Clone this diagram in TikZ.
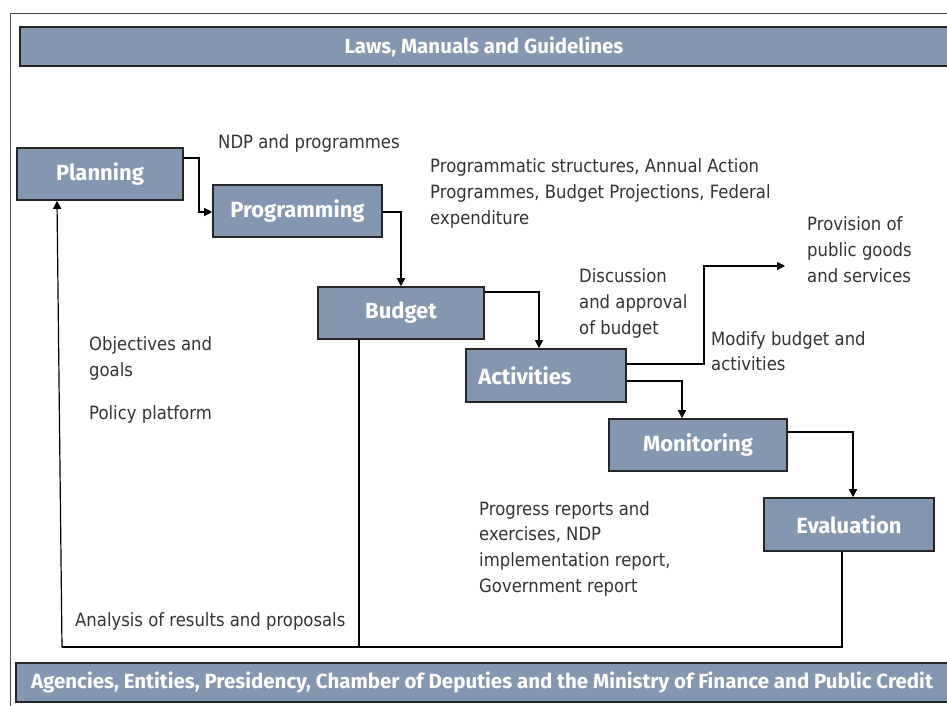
\documentclass[tikz,border=0pt]{standalone}
\usepackage{fontspec}
\usetikzlibrary{arrows.meta,calc}
\newfontfamily\labfont[FakeStretch=0.9]{DejaVu Sans}
\newfontfamily\boxfont{Fira Sans}
\newfontfamily\barfont{Fira Sans}
\definecolor{boxblue}{HTML}{8497B0}
\definecolor{labgray}{HTML}{333333}
\begin{document}
\begin{tikzpicture}[x=1pt,y=-1pt,
  stage/.style={draw=black!85, line width=1.6pt, fill=boxblue, text=white,
    font=\boxfont\bfseries\fontsize{22}{26}\selectfont,
    minimum width=#1, minimum height=52pt, inner sep=0pt},
  bar/.style={draw=black!85, line width=1.6pt, fill=boxblue, text=white,
    font=\barfont\bfseries\fontsize{20.5}{24}\selectfont, inner sep=0pt},
  lab/.style={anchor=north west, inner sep=0pt, align=left, text=labgray,
    font=\labfont\fontsize{18.3}{26}\selectfont},
  conn/.style={draw=black, line width=1.2pt},
  arr/.style={conn, -{Triangle[length=8pt,width=8pt]}}]
\useasboundingbox (0,0) rectangle (947,705);
\fill[white] (0,0) rectangle (947,705);
\draw[black!70, line width=1pt] (10,13) rectangle (960,715);
% bars
\node[bar, minimum width=928pt, minimum height=39pt] (laws) at (484,46.5) {Laws, Manuals and Guidelines};
\node[bar, minimum width=932pt, minimum height=39pt] (agen) at (482,682.5) {Agencies, Entities, Presidency, Chamber of Deputies and the Ministry of Finance and Public Credit};
% stages
\node[stage=166] (plan) at (100,174) {Planning};
\node[stage=169] (prog) at (297.5,211) {Programming};
\node[stage=166] (bud) at (401,313) {Budget};
\node[stage=160, minimum height=53pt] (act) at (546,375.5) {\hspace*{-42pt}Activities};
\node[stage=178] (mon) at (698,445) {Monitoring};
\node[stage=170, minimum height=53pt] (eval) at (849,524.5) {Evaluation};
% labels
\node[lab] (ndp) at (218,134) {NDP and programmes};
\node[lab] (pstr) at (430,158) {Programmatic structures, Annual Action\\Programmes, Budget Projections, Federal\\expenditure};
\node[lab] (prov) at (807,216) {Provision of\\public goods\\and services};
\node[lab] (disc) at (579,268) {Discussion\\and approval\\of budget};
\node[lab, font=\labfont\fontsize{18.3}{25}\selectfont] (modi) at (711,331) {Modify budget and\\activities};
\node[lab] (obj) at (89,336) {Objectives and\\goals};
\node[lab] (pol) at (89,405) {Policy platform};
\node[lab, font=\labfont\fontsize{18.3}{25.7}\selectfont] (prep) at (479,501) {Progress reports and\\exercises, NDP\\implementation report,\\Government report};
\node[lab] (anal) at (75,612) {Analysis of results and proposals};
% connectors
\coordinate (provin) at (785,266);
\coordinate (fbc) at (62,647);
\coordinate (evb) at ([xshift=-7pt]eval.south);
\coordinate (budb) at ([xshift=-42pt]bud.south);
\draw[arr] (plan.east |- 0,158) -- (199,158) -- (199,212) -- (prog.west |- 0,212);
\draw[arr] (prog.east |- 0,212) -| (bud.north);
\draw[arr] (bud.east |- 0,292) -| ([xshift=-7pt]act.north);
\draw[arr] (act.east |- 0,364) -- (704,364) -- (704,266) -- (provin);
\draw[arr] (act.east |- 0,381) -| ([xshift=-16pt]mon.north);
\draw[arr] (mon.east |- 0,432) -| ([xshift=4pt]eval.north);
\draw[conn] (evb) -- (evb |- fbc) -- (fbc);
\draw[arr] (fbc) -- ([xshift=-43pt]plan.south);
\draw[conn] (budb) -- (budb |- fbc);
\end{tikzpicture}
\end{document}
